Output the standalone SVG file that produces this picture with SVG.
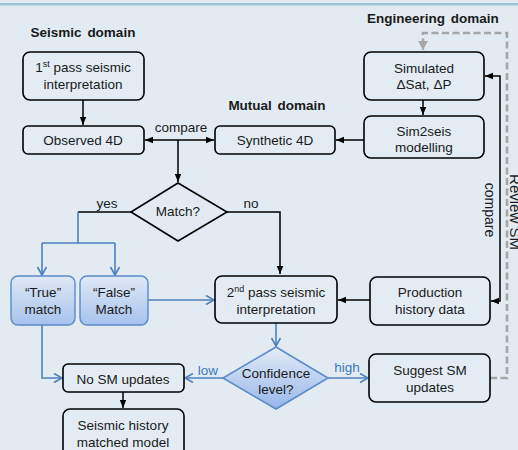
<svg xmlns="http://www.w3.org/2000/svg" width="518" height="450" viewBox="0 0 518 450">
<defs>
<style>
text{font-family:"Liberation Sans",Arial,sans-serif;font-size:13.5px;fill:#1a1a1a;text-anchor:middle}
.t{font-weight:bold;font-size:13.5px;word-spacing:2px}
.box{fill:#e3ecf3;stroke:#000;stroke-width:1.6}
.bbox{fill:url(#bg);stroke:#5b8bc8;stroke-width:1.4}
.k{fill:none;stroke:#000;stroke-width:1.5}
.b{fill:none;stroke:#4f81bd;stroke-width:1.6}
.g{fill:none;stroke:#a6a6a6;stroke-width:2.6;stroke-dasharray:7 3.5}
.bl{fill:#3d78c0}
</style>
<linearGradient id="bg" x1="0" y1="0" x2="0" y2="1">
<stop offset="0" stop-color="#dfe9f7"/>
<stop offset="1" stop-color="#a6c2ec"/>
</linearGradient>
<linearGradient id="dg" x1="0" y1="0" x2="0" y2="1">
<stop offset="0" stop-color="#e3ecf8"/>
<stop offset="1" stop-color="#97b7ea"/>
</linearGradient>
<marker id="ak" markerUnits="userSpaceOnUse" markerWidth="10" markerHeight="10" refX="8" refY="4" orient="auto-start-reverse">
<path d="M0,0.8 L8,4 L0,7.2 Z" fill="#000"/>
</marker>
<marker id="ab" markerUnits="userSpaceOnUse" markerWidth="12" markerHeight="12" refX="9" refY="5" orient="auto">
<path d="M1,0.5 L9,5 L1,9.5" fill="none" stroke="#4f81bd" stroke-width="1.6"/>
</marker>
<marker id="ag" markerUnits="userSpaceOnUse" markerWidth="12" markerHeight="12" refX="9" refY="5" orient="auto">
<path d="M0,0 L9,5 L0,10 Z" fill="#a6a6a6"/>
</marker>
</defs>
<rect width="518" height="450" fill="#e2ebf2"/>
<rect x="0" y="3" width="518" height="2.5" fill="#9ec3da"/>

<g id="titles">
<text class="t" x="83" y="37">Seismic domain</text>
<text class="t" x="277" y="110">Mutual domain</text>
<text class="t" x="433" y="23">Engineering domain</text>
</g>

<g id="connectors">
<line class="k" x1="83" y1="100" x2="83" y2="125" marker-end="url(#ak)"/>
<line class="k" x1="145" y1="140" x2="214" y2="140" marker-start="url(#ak)" marker-end="url(#ak)"/>
<line class="k" x1="178" y1="140" x2="178" y2="182" marker-end="url(#ak)"/>
<line class="k" x1="423" y1="100" x2="423" y2="115" marker-end="url(#ak)"/>
<line class="k" x1="364" y1="140" x2="336" y2="140" marker-end="url(#ak)"/>
<path class="k" d="M500,190 V76 H485" marker-end="url(#ak)"/>
<path class="k" d="M500,190 V301 H491" marker-end="url(#ak)"/>
<line class="k" x1="131" y1="212" x2="78" y2="212"/>
<path class="b" d="M78,212 V243 M42,243 H115"/>
<line class="b" x1="42" y1="243" x2="42" y2="275" marker-end="url(#ab)"/>
<line class="b" x1="115" y1="243" x2="115" y2="275" marker-end="url(#ab)"/>
<path class="k" d="M227,212 H280 V274" marker-end="url(#ak)"/>
<line class="b" x1="148" y1="300" x2="214" y2="300" marker-end="url(#ab)"/>
<line class="k" x1="370" y1="300" x2="338" y2="300" marker-end="url(#ak)"/>
<line class="b" x1="276" y1="323" x2="276" y2="346" marker-end="url(#ab)"/>
<line class="b" x1="223" y1="378" x2="185" y2="378" marker-end="url(#ab)"/>
<line class="b" x1="328" y1="378" x2="368" y2="378" marker-end="url(#ab)"/>
<path class="b" d="M42,325 V378 H62" marker-end="url(#ab)"/>
<line class="k" x1="123" y1="392" x2="123" y2="408" marker-end="url(#ak)"/>
<path class="g" d="M490,378 H507 V33 H423 V50" marker-end="url(#ag)"/>
<text x="181" y="132">compare</text>
<text x="107" y="208">yes</text>
<text x="251" y="208">no</text>
<text x="208" y="375" class="bl" style="fill:#3d78c0">low</text>
<text x="347" y="372" style="fill:#3d78c0">high</text>
<text transform="translate(485,210) rotate(90)" style="font-size:14px">compare</text>
<text transform="translate(510,212) rotate(90)" style="font-size:15px">Review SM</text>
</g>

<g id="n1st">
<rect class="box" x="23" y="52" width="121" height="48" rx="7"/>
<text x="83" y="72">1<tspan dy="-5" style="font-size:9px">st</tspan><tspan dy="5"> pass seismic</tspan></text>
<text x="83" y="89">interpretation</text>
</g>
<g id="observed">
<rect class="box" x="23" y="126" width="121" height="28" rx="5"/>
<text x="83" y="145">Observed 4D</text>
</g>
<g id="synthetic">
<rect class="box" x="215" y="126" width="120" height="28" rx="5"/>
<text x="275" y="145">Synthetic 4D</text>
</g>
<g id="simulated">
<rect class="box" x="364" y="52" width="120" height="48" rx="7"/>
<text x="424" y="73">Simulated</text>
<text x="424" y="89">ΔSat, ΔP</text>
</g>
<g id="sim2seis">
<rect class="box" x="364" y="116" width="120" height="42" rx="7"/>
<text x="424" y="136">Sim2seis</text>
<text x="424" y="152">modelling</text>
</g>
<g id="match">
<polygon points="178,183 227,212 178,241 131,212" fill="#e2ebf2" stroke="#000" stroke-width="1.6"/>
<text x="178" y="216">Match?</text>
</g>
<g id="truematch">
<rect class="bbox" x="11" y="276" width="64" height="49" rx="7"/>
<text x="43" y="297">“True”</text>
<text x="43" y="314">match</text>
</g>
<g id="falsematch">
<rect class="bbox" x="80" y="276" width="68" height="49" rx="7"/>
<text x="114" y="297">“False”</text>
<text x="114" y="314">Match</text>
</g>
<g id="n2nd">
<rect class="box" x="215" y="276" width="122" height="47" rx="7"/>
<text x="276" y="297">2<tspan dy="-5" style="font-size:9px">nd</tspan><tspan dy="5"> pass seismic</tspan></text>
<text x="276" y="314">interpretation</text>
</g>
<g id="production">
<rect class="box" x="370" y="277" width="120" height="48" rx="7"/>
<text x="430" y="297">Production</text>
<text x="430" y="314">history data</text>
</g>
<g id="confidence">
<polygon points="276,347 328,378 276,409 223,378" fill="url(#dg)" stroke="#5b8bc8" stroke-width="1.6"/>
<text x="276" y="378">Confidence</text>
<text x="276" y="394">level?</text>
</g>
<g id="nosm">
<rect class="box" x="63" y="364" width="121" height="28" rx="5"/>
<text x="123" y="384">No SM updates</text>
</g>
<g id="seismichm">
<rect class="box" x="63" y="409" width="121" height="50" rx="7"/>
<text x="123" y="430">Seismic history</text>
<text x="123" y="447">matched model</text>
</g>
<g id="suggest">
<rect class="box" x="369" y="354" width="121" height="48" rx="7"/>
<text x="430" y="375">Suggest SM</text>
<text x="430" y="392">updates</text>
</g>
</svg>
